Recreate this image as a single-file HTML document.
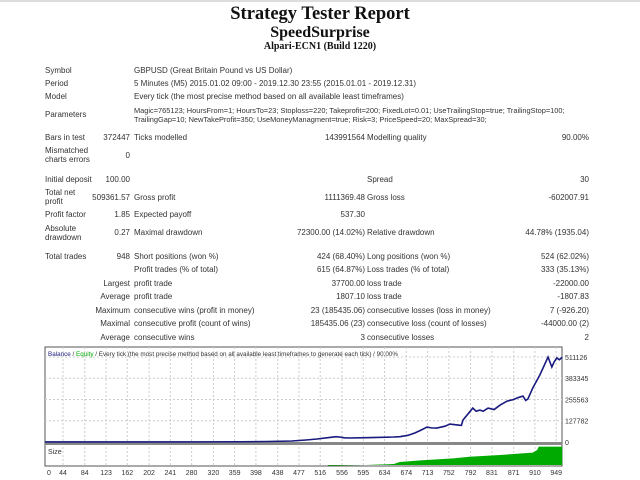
<!DOCTYPE html>
<html><head><meta charset="utf-8"><style>
body{margin:0;width:640px;height:480px;background:#fff;overflow:hidden;position:relative;font-family:"Liberation Sans",sans-serif;color:#333}
.t{position:absolute;font-size:8px;line-height:9px;white-space:nowrap}
.r{text-align:right}
.h{position:absolute;left:0;width:640px;text-align:center;font-family:"Liberation Serif",serif;font-weight:bold;color:#111}
</style></head><body>
<div style="position:absolute;left:0;top:0;width:640px;height:2px;background:#ddd"></div>
<div class="h" style="top:4px;font-size:18.5px">Strategy Tester Report</div>
<div class="h" style="top:24px;font-size:16px">SpeedSurprise</div>
<div class="h" style="top:41px;font-size:10px">Alpari-ECN1 (Build 1220)</div>

<div>
<div class="t" style="left:45px;top:66px">Symbol</div>
<div class="t" style="left:134px;top:66px">GBPUSD (Great Britain Pound vs US Dollar)</div>
<div class="t" style="left:45px;top:79px">Period</div>
<div class="t" style="left:134px;top:79px">5 Minutes (M5) 2015.01.02 09:00 - 2019.12.30 23:55 (2015.01.01 - 2019.12.31)</div>
<div class="t" style="left:45px;top:92px">Model</div>
<div class="t" style="left:134px;top:92px">Every tick (the most precise method based on all available least timeframes)</div>
<div class="t" style="left:45px;top:110px">Parameters</div>
<div class="t" style="left:134px;top:106px;font-size:7.4px">Magic=765123; HoursFrom=1; HoursTo=23; Stoploss=220; Takeprofit=200; FixedLot=0.01; UseTrailingStop=true; TrailingStop=100;<br>TrailingGap=10; NewTakeProfit=350; UseMoneyManagment=true; Risk=3; PriceSpeed=20; MaxSpread=30;</div>

<div class="t" style="left:45px;top:133px">Bars in test</div>
<div class="t r" style="right:510px;top:133px">372447</div>
<div class="t" style="left:134px;top:133px">Ticks modelled</div>
<div class="t r" style="right:275px;top:133px">143991564</div>
<div class="t" style="left:367px;top:133px">Modelling quality</div>
<div class="t r" style="right:51px;top:133px">90.00%</div>

<div class="t" style="left:45px;top:146px">Mismatched<br>charts errors</div>
<div class="t r" style="right:510px;top:151px">0</div>

<div class="t" style="left:45px;top:175px">Initial deposit</div>
<div class="t r" style="right:510px;top:175px">100.00</div>
<div class="t" style="left:367px;top:175px">Spread</div>
<div class="t r" style="right:51px;top:175px">30</div>

<div class="t" style="left:45px;top:188px">Total net<br>profit</div>
<div class="t r" style="right:510px;top:193px">509361.57</div>
<div class="t" style="left:134px;top:193px">Gross profit</div>
<div class="t r" style="right:275px;top:193px">1111369.48</div>
<div class="t" style="left:367px;top:193px">Gross loss</div>
<div class="t r" style="right:51px;top:193px">-602007.91</div>

<div class="t" style="left:45px;top:210px">Profit factor</div>
<div class="t r" style="right:510px;top:210px">1.85</div>
<div class="t" style="left:134px;top:210px">Expected payoff</div>
<div class="t r" style="right:275px;top:210px">537.30</div>

<div class="t" style="left:45px;top:224px">Absolute<br>drawdown</div>
<div class="t r" style="right:510px;top:228px">0.27</div>
<div class="t" style="left:134px;top:228px">Maximal drawdown</div>
<div class="t r" style="right:275px;top:228px">72300.00 (14.02%)</div>
<div class="t" style="left:367px;top:228px">Relative drawdown</div>
<div class="t r" style="right:51px;top:228px">44.78% (1935.04)</div>

<div class="t" style="left:45px;top:252px">Total trades</div>
<div class="t r" style="right:510px;top:252px">948</div>
<div class="t" style="left:134px;top:252px">Short positions (won %)</div>
<div class="t r" style="right:275px;top:252px">424 (68.40%)</div>
<div class="t" style="left:367px;top:252px">Long positions (won %)</div>
<div class="t r" style="right:51px;top:252px">524 (62.02%)</div>

<div class="t" style="left:134px;top:265px">Profit trades (% of total)</div>
<div class="t r" style="right:275px;top:265px">615 (64.87%)</div>
<div class="t" style="left:367px;top:265px">Loss trades (% of total)</div>
<div class="t r" style="right:51px;top:265px">333 (35.13%)</div>

<div class="t r" style="right:510px;top:279px">Largest</div>
<div class="t" style="left:134px;top:279px">profit trade</div>
<div class="t r" style="right:275px;top:279px">37700.00</div>
<div class="t" style="left:367px;top:279px">loss trade</div>
<div class="t r" style="right:51px;top:279px">-22000.00</div>

<div class="t r" style="right:510px;top:292px">Average</div>
<div class="t" style="left:134px;top:292px">profit trade</div>
<div class="t r" style="right:275px;top:292px">1807.10</div>
<div class="t" style="left:367px;top:292px">loss trade</div>
<div class="t r" style="right:51px;top:292px">-1807.83</div>

<div class="t r" style="right:510px;top:306px">Maximum</div>
<div class="t" style="left:134px;top:306px">consecutive wins (profit in money)</div>
<div class="t r" style="right:275px;top:306px">23 (185435.06)</div>
<div class="t" style="left:367px;top:306px">consecutive losses (loss in money)</div>
<div class="t r" style="right:51px;top:306px">7 (-926.20)</div>

<div class="t r" style="right:510px;top:319px">Maximal</div>
<div class="t" style="left:134px;top:319px">consecutive profit (count of wins)</div>
<div class="t r" style="right:275px;top:319px">185435.06 (23)</div>
<div class="t" style="left:367px;top:319px">consecutive loss (count of losses)</div>
<div class="t r" style="right:51px;top:319px">-44000.00 (2)</div>

<div class="t r" style="right:510px;top:333px">Average</div>
<div class="t" style="left:134px;top:333px">consecutive wins</div>
<div class="t r" style="right:275px;top:333px">3</div>
<div class="t" style="left:367px;top:333px">consecutive losses</div>
<div class="t r" style="right:51px;top:333px">2</div>
</div>

<svg id="chart" style="position:absolute;left:0;top:0" width="640" height="480" font-family="Liberation Sans, sans-serif" font-size="7"></svg>
<script>
const tradeIdx=[0,100,200,300,371,420,464,490,510,530,545,551,560,571,600,630,651,662,677,690,700,712,720,730,745,754,769,775,778,790,796,802,809,815,824,835,846,859,870,880,888,893,897,906,919,934,941,945,950,955,960];
const balance=[100,150,300,800,1500,3000,6000,12000,18000,26000,32000,30000,25000,24000,26000,28000,30000,32000,40000,55000,70000,90000,85000,84000,95000,108000,102000,100000,132000,180000,204000,185000,192000,185000,204000,195000,222000,246000,255000,268000,276000,250000,258000,325000,403000,511000,451000,480000,505000,495000,511000];
const sizeIdx=[530,560,600,651,662,700,760,790,846,906,914,917,960];
const sizeVal=[0.02,0.03,0.05,0.1,0.2,0.28,0.38,0.46,0.55,0.67,0.8,0.97,0.97];
const yTicks=[0,127782,255563,383345,511126];
const xTicks=[0,44,84,123,162,202,241,280,320,359,398,438,477,516,556,595,634,674,713,752,792,831,871,910,949];
const NS='http://www.w3.org/2000/svg';
const svg=document.getElementById('chart');
const L=45,R=562,T=347,B=466,Z=442,S0=445;
const X=v=>39+v*0.545;
const Y=v=>Z-v/511126*85;
const SY=v=>466-v*20;
function mk(tag,attrs,parent){const e=document.createElementNS(NS,tag);for(const k in attrs)e.setAttribute(k,attrs[k]);(parent||svg).appendChild(e);return e;}
let e=mk('rect',{x:L,y:T,width:R-L,height:B-T,fill:'#fff',stroke:'#555','stroke-width':1});


xTicks.forEach((v,i)=>{if(i===0)return;const g=mk('line',{x1:X(v),x2:X(v),y1:T,y2:B,stroke:'#ccc','stroke-dasharray':'2,2'});

});
yTicks.forEach(v=>{if(v===0)return;const g=mk('line',{x1:L,x2:R,y1:Y(v),y2:Y(v),stroke:'#ccc','stroke-dasharray':'2,2'});

});
e=mk('rect',{x:L,y:Z,width:R-L,height:S0-Z,fill:'#888'});


let pts=sizeIdx.map((v,i)=>X(v)+','+SY(sizeVal[i])).join(' ');
pts=X(sizeIdx[0])+','+(B-1)+' '+pts+' '+X(sizeIdx[sizeIdx.length-1])+','+(B-1);
e=mk('polygon',{points:pts,fill:'#00aa00'});


const lp=tradeIdx.map((v,i)=>Math.max(X(v),L)+','+Y(balance[i])).join(' ');
e=mk('polyline',{points:lp,fill:'none',stroke:'#00aa00','stroke-width':1});


e=mk('polyline',{points:lp,fill:'none',stroke:'#1a1a80','stroke-width':1.6});


yTicks.forEach(v=>{const t=mk('text',{x:565,y:Y(v)+3,fill:'#333'});t.textContent=v;

});
xTicks.forEach((v,i)=>{const t=mk('text',{x:i===0?47:X(v),y:475,fill:'#333','text-anchor':i===0?'start':'middle'});t.textContent=v;

});
const lg=mk('text',{x:48,y:356,fill:'#333','font-size':6.3});


[['Balance','#1a1a80'],[' / ','#333'],['Equity','#00aa00'],[' / Every tick (the most precise method based on all available least timeframes to generate each tick) / 90.00%','#333']].forEach(p=>{const s=mk('tspan',{fill:p[1]},lg);s.textContent=p[0];});
const sz=mk('text',{x:48,y:454,fill:'#333'});sz.textContent='Size';


</script>
</body></html>
